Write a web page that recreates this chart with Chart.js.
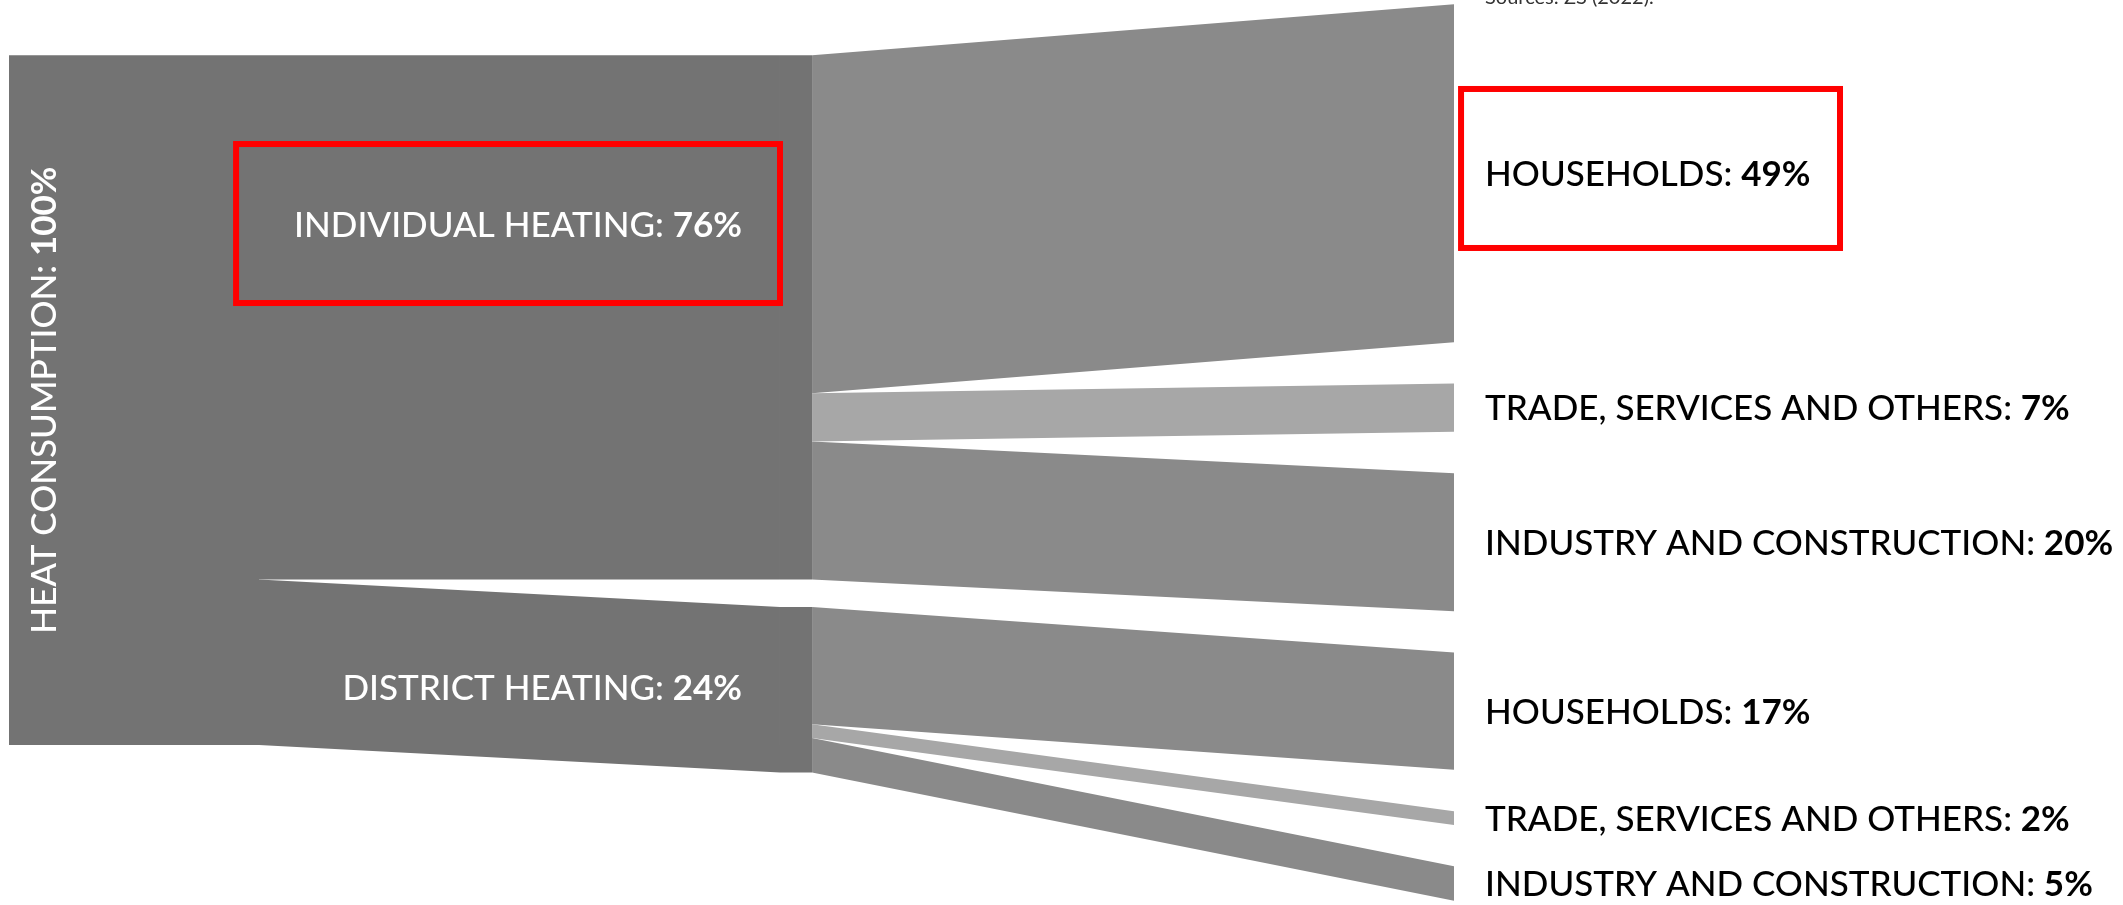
<!DOCTYPE html>
<html><head><meta charset="utf-8">
<script src="https://cdn.jsdelivr.net/npm/chart.js@4.4.1/dist/chart.umd.min.js"></script>
<style>html,body{margin:0;padding:0;background:#fff;overflow:hidden}#wrap{width:2123px;height:905px;position:relative}</style>
</head><body><div id="wrap"><canvas id="c"></canvas></div>
<script>
// ---------------- data ----------------
const sourceName = 'HEAT CONSUMPTION';
const sourceValue = 100;
const stageNames = ['INDIVIDUAL HEATING', 'DISTRICT HEATING'];
const stageValues = [76, 24];
const sectorNames = ['HOUSEHOLDS', 'TRADE, SERVICES AND OTHERS', 'INDUSTRY AND CONSTRUCTION'];
const individualValues = [49, 7, 20];
const districtValues = [17, 2, 5];
const sourceNote = 'Sources: ZS (2022).';

// ---------------- layout (in scale units) ----------------
const LAYOUT = {
  xMin: 0, xMax: 100, yMin: -0.6, yMax: 130.6,
  srcX: [0.42, 12.2], stageX: [36.74, 38.25], targetX: 68.49,
  labelX: 69.95, stageLabelX: 34.95, srcLabelX: 2.03,
  srcTop: 7.4, stageGap: 4, targetTop: 0, targetGap: 6,
  stageLabelDy: [-13.45, -0.4],
  boxes: [
    {x0: 11.12, x1: 36.74, y0: 20.28, y1: 43.33},
    {x0: 68.82, x1: 86.67, y0: 12.30, y1: 35.35}
  ]
};
const STYLE = {
  main: '#737373',
  sector: ['#8a8a8a', '#a7a7a7', '#8a8a8a'],
  font: 'Lato', size: 35, regWeight: 500, boldWeight: 700, box: '#ff0000', boxWidth: 6
};

// ---------------- geometry from values ----------------
const datasets = [];
function band(x0, t0, b0, x1, t1, b1, color) {
  const common = {borderWidth: 0, borderColor: 'rgba(0,0,0,0)', pointRadius: 0, backgroundColor: color, tension: 0};
  datasets.push(Object.assign({data: [{x: x0, y: t0}, {x: x1, y: t1}], fill: false}, common));
  datasets.push(Object.assign({data: [{x: x0, y: b0}, {x: x1, y: b1}], fill: '-1'}, common));
}
const L = LAYOUT;
const srcTop = L.srcTop, srcBot = srcTop + sourceValue;
const stageTop = [], stageBot = [];
let cy = L.srcTop;
stageValues.forEach((v) => { stageTop.push(cy); stageBot.push(cy + v); cy += v + L.stageGap; });
// source node
band(L.srcX[0], srcTop, srcBot, L.srcX[1], srcTop, srcBot, STYLE.main);
// level-1 links
let sy = srcTop;
stageValues.forEach((v, i) => {
  band(L.srcX[1], sy, sy + v, L.stageX[0], stageTop[i], stageBot[i], STYLE.main);
  sy += v;
});
// stage nodes
stageValues.forEach((v, i) => band(L.stageX[0], stageTop[i], stageBot[i], L.stageX[1], stageTop[i], stageBot[i], STYLE.main));
// level-2 links to sector targets
const targets = [];
let ty = L.targetTop;
[individualValues, districtValues].forEach((vals, si) => {
  let ly = stageTop[si];
  vals.forEach((v, k) => {
    band(L.stageX[1], ly, ly + v, L.targetX, ty, ty + v, STYLE.sector[k]);
    targets.push({name: sectorNames[k], value: v, mid: ty + v / 2});
    ly += v; ty += v + L.targetGap;
  });
});

// ---------------- text plugin ----------------
function fnt(bold) { return (bold ? STYLE.boldWeight : STYLE.regWeight) + ' ' + STYLE.size + 'px ' + STYLE.font; }
function mixedWidth(ctx, parts) {
  let w = 0; parts.forEach(p => { ctx.font = fnt(p.b); w += ctx.measureText(p.t).width; }); return w;
}
function drawParts(ctx, parts, x, y) {
  parts.forEach(p => { ctx.font = fnt(p.b); ctx.fillText(p.t, x, y); x += ctx.measureText(p.t).width; });
}
const capH = STYLE.size * 0.7165;
const labelPlugin = {
  id: 'labels',
  afterDatasetsDraw(chart) {
    const ctx = chart.ctx, xs = chart.scales.x, ys = chart.scales.y;
    ctx.save();
    ctx.textBaseline = 'alphabetic'; ctx.textAlign = 'left';
    // source (rotated)
    ctx.fillStyle = '#ffffff';
    const sp = [{t: sourceName + ': ', b: false}, {t: sourceValue + '%', b: true}];
    const sw = mixedWidth(ctx, sp);
    ctx.save();
    ctx.translate(xs.getPixelForValue(L.srcLabelX), ys.getPixelForValue((srcTop + srcBot) / 2));
    ctx.rotate(-Math.PI / 2);
    drawParts(ctx, sp, -sw / 2, capH / 2);
    ctx.restore();
    // stage labels (right aligned)
    stageNames.forEach((n, i) => {
      const parts = [{t: n + ': ', b: false}, {t: stageValues[i] + '%', b: true}];
      const w = mixedWidth(ctx, parts);
      const y = ys.getPixelForValue((stageTop[i] + stageBot[i]) / 2 + L.stageLabelDy[i]) + capH / 2;
      drawParts(ctx, parts, xs.getPixelForValue(L.stageLabelX) - w, y);
    });
    // target labels
    ctx.fillStyle = '#000000';
    targets.forEach(t => {
      const parts = [{t: t.name + ': ', b: false}, {t: t.value + '%', b: true}];
      drawParts(ctx, parts, xs.getPixelForValue(L.labelX), ys.getPixelForValue(t.mid) + capH / 2);
    });
    // source note (cut at top)
    ctx.font = '20px ' + STYLE.font; ctx.fillStyle = '#333333';
    ctx.fillText(sourceNote, xs.getPixelForValue(L.labelX), ys.getPixelForValue(L.yMin) + 4);
    // red highlight boxes
    ctx.strokeStyle = STYLE.box; ctx.lineWidth = STYLE.boxWidth;
    L.boxes.forEach(b => {
      const x0 = xs.getPixelForValue(b.x0), x1 = xs.getPixelForValue(b.x1);
      const y0 = ys.getPixelForValue(b.y0), y1 = ys.getPixelForValue(b.y1);
      ctx.strokeRect(x0, y0, x1 - x0, y1 - y0);
    });
    ctx.restore();
  }
};

const chart = new Chart(document.getElementById('c'), {
  type: 'line',
  data: {datasets},
  options: {
    responsive: true, maintainAspectRatio: false, animation: false, events: [],
    layout: {padding: 0},
    plugins: {legend: {display: false}, tooltip: {enabled: false}, filler: {propagate: false}},
    scales: {
      x: {type: 'linear', display: false, min: L.xMin, max: L.xMax},
      y: {type: 'linear', display: false, min: L.yMin, max: L.yMax, reverse: true}
    }
  },
  plugins: [labelPlugin]
});
if (document.fonts) {
  Promise.all([document.fonts.load(fnt(false)), document.fonts.load(fnt(true))]).then(() => chart.update());
}
</script></body></html>
